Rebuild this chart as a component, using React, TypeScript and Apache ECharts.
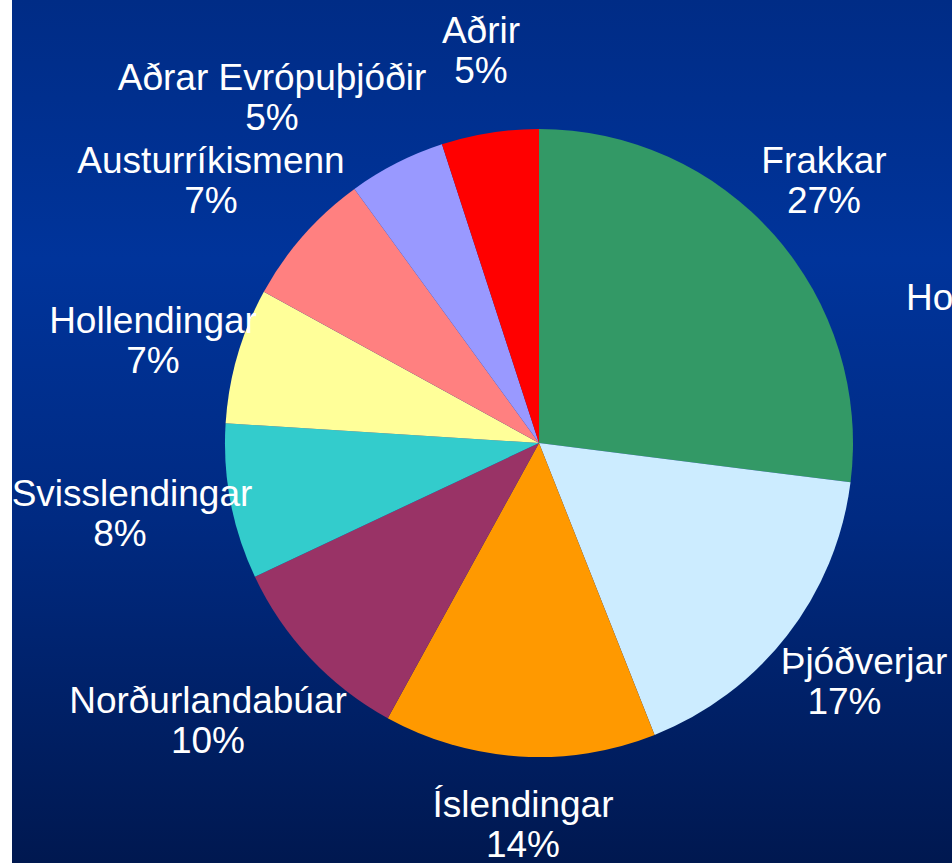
import React, { useEffect, useRef } from "react";
import * as echarts from "echarts";

const categories = [
  "Frakkar",
  "Þjóðverjar",
  "Íslendingar",
  "Norðurlandabúar",
  "Svisslendingar",
  "Hollendingar",
  "Austurríkismenn",
  "Aðrar Evrópuþjóðir",
  "Aðrir",
];
const shares = [27, 17, 14, 10, 8, 7, 7, 5, 5];
const sliceColors = [
  "#339966",
  "#CCECFF",
  "#FF9900",
  "#993366",
  "#33CCCC",
  "#FFFF99",
  "#FF8080",
  "#9999FF",
  "#FF0000",
];
// label anchor positions (layout only)
const labelPos: [number, number][] = [
  [824, 180],
  [864, 681],
  [523, 824],
  [208, 720],
  [132, 513],
  [153, 340],
  [211, 180],
  [272, 97],
  [481, 50],
];
// per-label style key of the percentage line (small visual offsets)
const pctStyle = ["p", "pR40", "p", "p", "pR24", "p", "p", "p", "p"];

const FONT = "'Liberation Sans', Arial, Helvetica, sans-serif";

export default function App() {
  const ref = useRef<HTMLDivElement>(null);
  useEffect(() => {
    if (!ref.current) return;
    const chart = echarts.init(ref.current, null, { renderer: "svg" });
    const baseText = {
      color: "#ffffff",
      fontFamily: FONT,
      fontSize: 37,
      lineHeight: 40,
    };
    chart.setOption({
      animation: false,
      backgroundColor: "#ffffff",
      graphic: [
        {
          type: "rect",
          z: -10,
          silent: true,
          shape: { x: 12, y: 0, width: 940, height: 863 },
          style: {
            fill: new echarts.graphic.LinearGradient(0, 0, 0, 1, [
              { offset: 0, color: "#002c86" },
              { offset: 0.3, color: "#00349b" },
              { offset: 0.6, color: "#002a82" },
              { offset: 1, color: "#001850" },
            ]),
          },
        },
        {
          type: "text",
          z: 10,
          x: 906,
          y: 297,
          style: {
            text: "Ho",
            fill: "#ffffff",
            font: `37px ${FONT}`,
            align: "left",
            verticalAlign: "middle",
          },
        },
      ],
      series: [
        {
          type: "pie",
          center: [539, 443],
          radius: 314,
          startAngle: 90,
          clockwise: true,
          avoidLabelOverlap: false,
          data: categories.map((name, i) => ({
            name,
            value: shares[i],
            itemStyle: { color: sliceColors[i] },
          })),
          itemStyle: { borderWidth: 0 },
          emphasis: { disabled: true },
          labelLine: { show: false },
          label: {
            show: true,
            position: "outside",
            ...baseText,
            formatter: (p: any) =>
              `{n|${p.name}}\n{${pctStyle[p.dataIndex]}|${p.value}%}`,
            rich: {
              n: { ...baseText },
              p: { ...baseText },
              pR40: { ...baseText, padding: [0, 39, 0, 0] },
              pR24: { ...baseText, padding: [0, 24, 0, 0] },
            },
          },
          labelLayout: (params: any) => ({
            x: labelPos[params.dataIndex][0],
            y: labelPos[params.dataIndex][1],
            align: "center",
            verticalAlign: "middle",
          }),
        },
      ],
    });
    return () => chart.dispose();
  }, []);
  return (
    <div
      ref={ref}
      style={{
        position: "fixed",
        left: 0,
        top: 0,
        width: 952,
        height: 863,
        overflow: "hidden",
      }}
    />
  );
}
